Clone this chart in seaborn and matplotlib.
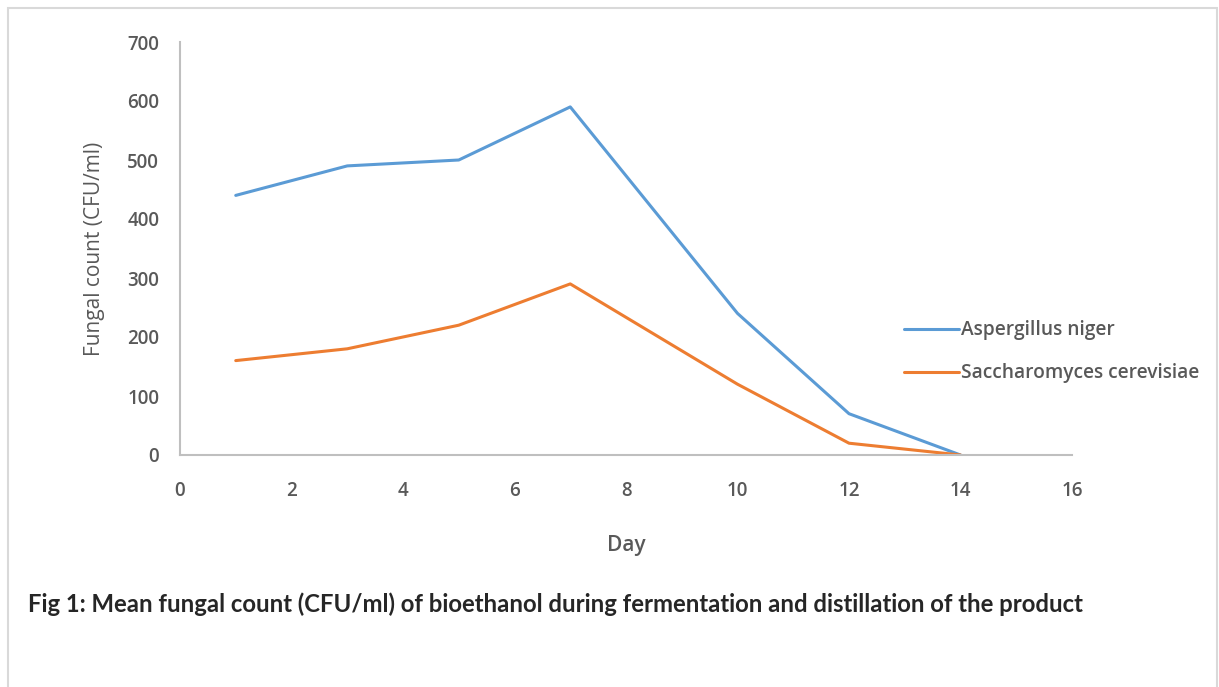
import matplotlib
matplotlib.use("Agg")
import matplotlib.pyplot as plt
import seaborn as sns
import pandas as pd
from matplotlib.patches import Rectangle

days = [1, 3, 5, 7, 10, 12, 14]
aspergillus = [440, 490, 500, 590, 240, 70, 0]
saccharomyces = [160, 180, 220, 290, 120, 20, 0]
series_names = ["Aspergillus niger", "Saccharomyces cerevisiae"]
x_ticks = [0, 2, 4, 6, 8, 10, 12, 14, 16]
y_ticks = [0, 100, 200, 300, 400, 500, 600, 700]
caption = "Fig 1: Mean fungal count (CFU/ml) of bioethanol during fermentation and distillation of the product"

df = pd.DataFrame({
    "Day": days * 2,
    "Count": aspergillus + saccharomyces,
    "Series": [series_names[0]] * len(days) + [series_names[1]] * len(days),
})

sns.set_theme(style="white")
plt.rcParams["font.family"] = ["Open Sans", "DejaVu Sans"]

fig = plt.figure(figsize=(12.19, 6.87), dpi=100)
ax = fig.add_axes([180 / 1219, 1 - 455 / 687, (1072 - 180) / 1219, (455 - 42) / 687])

sns.lineplot(data=df, x="Day", y="Count", hue="Series",
             palette=["#5B9BD5", "#ED7D31"], linewidth=2.2, ax=ax, legend=False)

ax.set_xlim(0, 16)
ax.set_ylim(0, 700)
ax.set_xticks(x_ticks)
ax.set_yticks(y_ticks)
ax.tick_params(axis="both", length=0, labelsize=13.5, colors="#595959")
for lab in ax.get_xticklabels() + ax.get_yticklabels():
    lab.set_fontweight("semibold")
ax.tick_params(axis="x", pad=19)
ax.tick_params(axis="y", pad=15)
for s in ["top", "right"]:
    ax.spines[s].set_visible(False)
for s in ["left", "bottom"]:
    ax.spines[s].set_color("#bfbfbf")
    ax.spines[s].set_linewidth(1.5)

ax.set_xlabel("Day", fontsize=15, color="#595959", labelpad=24, fontweight="semibold")
ax.set_ylabel("Fungal count (CFU/ml)", fontsize=15, color="#595959", labelpad=16)

handles = [plt.Line2D([], [], color=c, lw=2.2) for c in ["#5B9BD5", "#ED7D31"]]
fig.legend(handles, series_names, loc="upper left",
           bbox_to_anchor=(887 / 1219, 1 - 303 / 687), frameon=False,
           prop={"size": 13.8, "weight": "semibold"}, handlelength=2.85,
           handletextpad=0.1, labelspacing=1.2, labelcolor="#595959")

fig.text(28 / 1219, 1 - 604 / 687, caption, fontsize=17.2, fontweight="bold",
         color="#262626", va="center", ha="left", family=["Lato", "DejaVu Sans"])

fig.patches.append(Rectangle((8 / 1219, -0.05), (1217 - 8) / 1219, 1 - 8 / 687 + 0.05,
                             transform=fig.transFigure, fill=False,
                             edgecolor="#d9d9d9", linewidth=1.5))

fig.savefig("out.png", dpi=100)
